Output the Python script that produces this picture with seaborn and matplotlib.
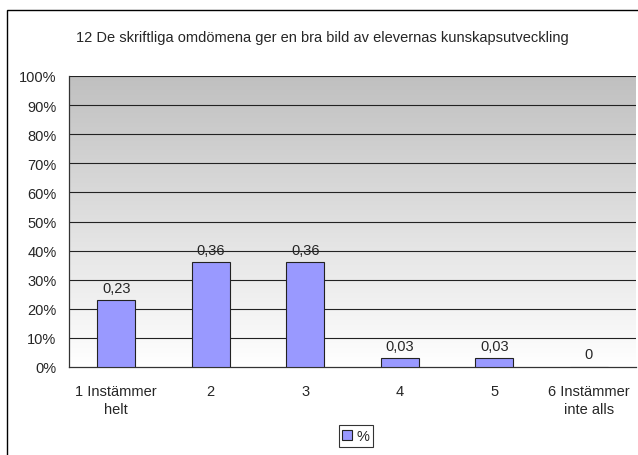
import numpy as np
import pandas as pd
import matplotlib
matplotlib.use("Agg")
import matplotlib.pyplot as plt
from matplotlib.patches import Rectangle, Patch
from matplotlib.ticker import PercentFormatter
from matplotlib.colors import LinearSegmentedColormap
import seaborn as sns

sns.set_style("white")
plt.rcParams['font.family'] = ['Liberation Sans', 'DejaVu Sans']

title = "12 De skriftliga omdömena ger en bra bild av elevernas kunskapsutveckling"
categories = ["1 Instämmer\nhelt", "2", "3", "4", "5", "6 Instämmer\ninte alls"]
values = [0.23, 0.36, 0.36, 0.03, 0.03, 0.0]
value_labels = ["0,23", "0,36", "0,36", "0,03", "0,03", "0"]
series_name = "%"

fs = 10.5
df = pd.DataFrame({"cat": categories, "val": values})

fig = plt.figure(figsize=(6.38, 4.56), dpi=100)
# outer chart frame (right/bottom edges run off the picture)
fig.patches.append(Rectangle((7/638, -0.1), 1.2, 1 - 11/456 + 0.1, transform=fig.transFigure,
                             fill=False, edgecolor="black", linewidth=1.0))
ax = fig.add_axes([69/638, 1 - 368/456, 567/638, 291/456])

# gray-to-white gradient of the plot area
grad = np.linspace(0, 1, 256).reshape(-1, 1)
cmap = LinearSegmentedColormap.from_list("g", ["#ffffff", "#c0c0c0"])
ax.imshow(grad, aspect="auto", cmap=cmap, origin="lower",
          extent=[-0.5, 5.5, 0, 1], zorder=0)

sns.barplot(data=df, x="cat", y="val", ax=ax, color="#9999ff", width=0.4,
            edgecolor="#222222", linewidth=0.8, saturation=1, zorder=3)
ax.set_xlim(-0.5, 5.5)
ax.set_ylim(0, 1)
ax.set_yticks(np.arange(0, 1.01, 0.1))
ax.yaxis.set_major_formatter(PercentFormatter(1.0, decimals=0))
for y in np.arange(0.1, 1.01, 0.1):
    ax.axhline(y, color="#222222", linewidth=0.8, zorder=1)

ax.bar_label(ax.containers[0], labels=value_labels, padding=4, fontsize=fs, zorder=4)

ax.set_xlabel("")
ax.set_ylabel("")
ax.set_xticks(range(len(categories)))
ax.set_xticklabels(categories, fontsize=fs, linespacing=1.4)
ax.set_xticks(np.arange(-0.5, 5.6, 1), minor=True)
ax.tick_params(axis="x", which="major", length=0, pad=12)
ax.tick_params(axis="x", which="minor", length=5, width=0.9, direction="out", color="#333333")
ax.tick_params(axis="y", length=5, width=0.9, direction="out", color="#333333",
               labelsize=fs, pad=4)

for s in ["top", "right"]:
    ax.spines[s].set_visible(False)
for s in ["left", "bottom"]:
    ax.spines[s].set_color("#333333")
    ax.spines[s].set_linewidth(0.9)

fig.text(322/638, 1 - 38/456, title, ha="center", va="center", fontsize=fs)

leg = fig.legend(handles=[Patch(facecolor="#9999ff", edgecolor="#222222", linewidth=0.8, label=series_name)],
                 loc="center", bbox_to_anchor=(356/638, 1 - 437/456), fontsize=fs,
                 frameon=True, fancybox=False, handlelength=0.7, handleheight=0.7,
                 handletextpad=0.3, borderpad=0.25, borderaxespad=0)
leg.get_frame().set_edgecolor("black")
leg.get_frame().set_linewidth(0.8)

fig.savefig("out.png", dpi=100)
